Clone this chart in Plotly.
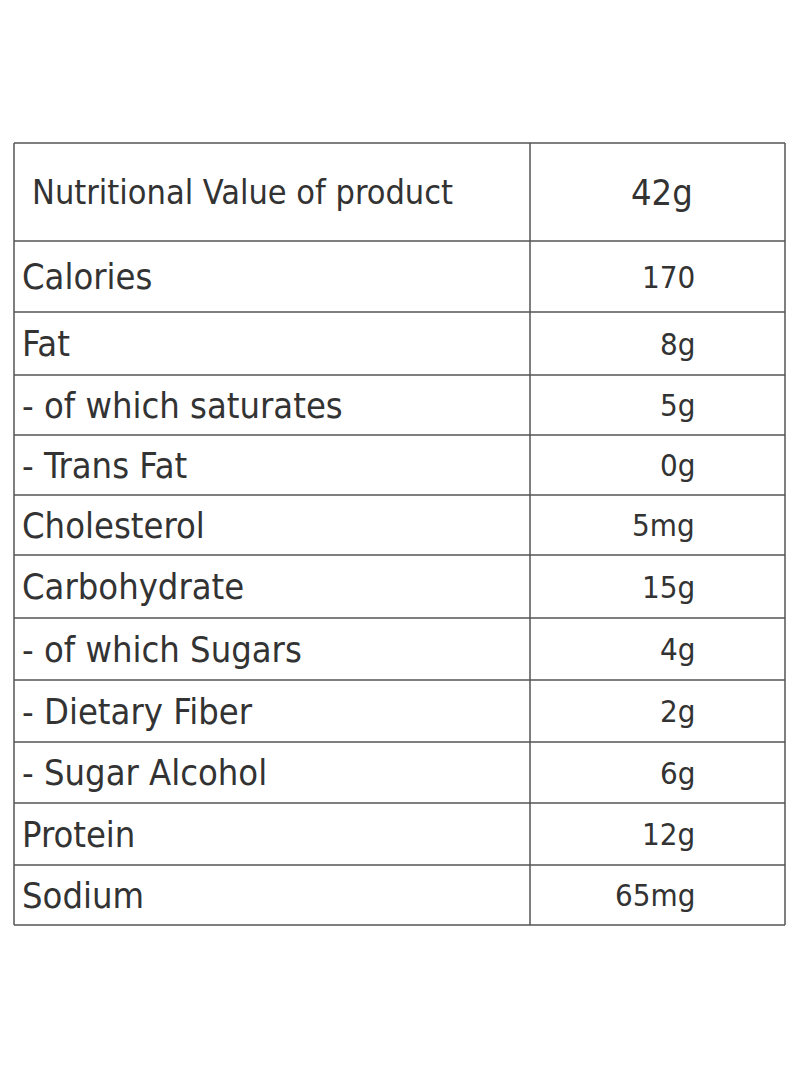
import plotly.graph_objects as go

header_label = "Nutritional Value of product"
header_value = "42g"
labels = ["Calories", "Fat", "- of which saturates", "- Trans Fat", "Cholesterol",
          "Carbohydrate", "- of which Sugars", "- Dietary Fiber", "- Sugar Alcohol",
          "Protein", "Sodium"]
values = ["170", "8g", "5g", "0g", "5mg", "15g", "4g", "2g", "6g", "12g", "65mg"]
row_edges = [143, 241, 312, 375, 435, 495, 555, 618, 680, 742, 803, 865, 925]

FONT = "DejaVu Sans Condensed, Liberation Sans Narrow, sans-serif"
COL = "#333333"
L, M, R = 14, 530, 785

fig = go.Figure()
fig.add_trace(go.Scatter(x=[8, 792], y=[8, 1083], mode="markers", marker=dict(opacity=0), hoverinfo="skip"))

shapes = []
for y in row_edges:
    shapes.append(dict(type="line", x0=L, x1=R, y0=y, y1=y, line=dict(color="#555", width=1.5)))
for x in (L, M, R):
    shapes.append(dict(type="line", x0=x, x1=x, y0=row_edges[0], y1=row_edges[-1], line=dict(color="#555", width=1.5)))

ann = []
hy = (row_edges[0] + row_edges[1]) / 2
ann.append(dict(x=30, y=hy, text=header_label, xanchor="left", showarrow=False,
                font=dict(family=FONT, size=34, color=COL)))
ann.append(dict(x=662, y=hy, text=header_value, xanchor="center", showarrow=False,
                font=dict(family=FONT, size=36, color=COL)))
for i, (lab, val) in enumerate(zip(labels, values)):
    y = (row_edges[i + 1] + row_edges[i + 2]) / 2
    ann.append(dict(x=20, y=y, text=lab, xanchor="left", showarrow=False,
                    font=dict(family=FONT, size=36, color=COL)))
    ann.append(dict(x=697, y=y, text=val, xanchor="right", showarrow=False,
                    font=dict(family=FONT, size=31, color=COL)))

fig.update_layout(width=784, height=1075, margin=dict(l=0, r=0, t=0, b=0),
                  paper_bgcolor="white", plot_bgcolor="white", showlegend=False,
                  xaxis=dict(range=[8, 792], visible=False, fixedrange=True),
                  yaxis=dict(range=[1083, 8], visible=False, fixedrange=True),
                  shapes=shapes, annotations=ann)
fig.write_html("out.html")
